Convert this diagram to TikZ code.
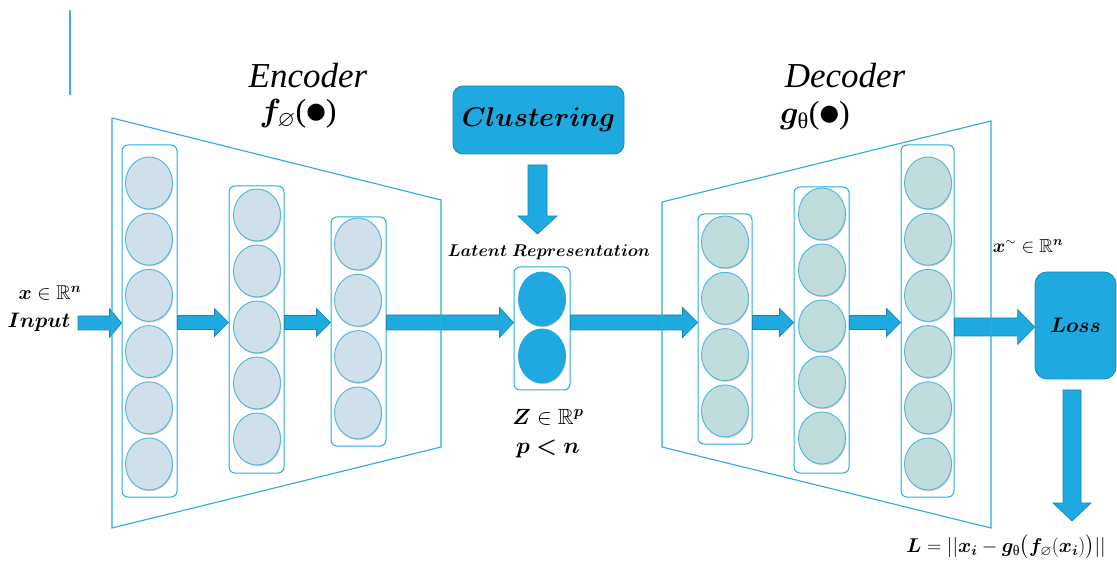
\RequirePackage{fix-cm}
\documentclass[tikz,border=0pt]{standalone}
\usepackage{amsmath,amssymb,bm}
\usepackage{fontspec}
\usepackage{graphicx}
\usetikzlibrary{shapes.geometric,shadows,calc}
\newfontfamily\tms{Liberation Serif}
\newfontfamily\djs{DejaVu Sans}
\definecolor{cyanl}{HTML}{29ABE2}
\definecolor{dblue}{HTML}{1EA9E0}
\definecolor{dedge}{HTML}{1B86B8}
\definecolor{encf}{HTML}{CFE0EB}
\definecolor{decf}{HTML}{C1DCDC}
\definecolor{cedge}{HTML}{52B3DC}
\newcommand\fsz[1]{\fontsize{#1}{#1}\selectfont}
\newcommand\dotarg{{\tms(}\raisebox{0.1em}{\djs\scalebox{0.7}{●}}{\tms)}}
% horizontal block arrow: from, to, half body, half head, head length
\newcommand\harr[5]{%
  \path[blk] let \p1=(#1), \p2=(#2) in
   (\x1,{\y1+#3}) -- ({\x2-#5},{\y1+#3}) -- ({\x2-#5},{\y1+#4}) -- (\x2,\y1)
   -- ({\x2-#5},{\y1-#4}) -- ({\x2-#5},{\y1-#3}) -- (\x1,{\y1-#3}) -- cycle;}
% vertical (downward) block arrow
\newcommand\varr[5]{%
  \path[blk] let \p1=(#1), \p2=(#2) in
   ({\x1-#3},\y1) -- ({\x1-#3},{\y2+#5}) -- ({\x1-#4},{\y2+#5}) -- (\x1,\y2)
   -- ({\x1+#4},{\y2+#5}) -- ({\x1+#3},{\y2+#5}) -- ({\x1+#3},\y1) -- cycle;}
\tikzset{
 colbox/.style={draw=cyanl, line width=1pt, rounded corners=6pt, minimum width=55pt, inner sep=0pt},
 neu/.style={ellipse, draw=cedge, line width=0.9pt, minimum width=47pt, minimum height=52pt, inner sep=0pt,
   drop shadow={shadow xshift=0.8pt,shadow yshift=-1.2pt,opacity=0.3,fill=black!60}},
 encn/.style={neu, fill=encf},
 decn/.style={neu, fill=decf},
 latn/.style={neu, fill=dblue, draw=dblue, minimum height=54pt},
 blk/.style={fill=dblue, draw=dedge, line width=0.7pt, line join=miter},
 trap/.style={draw=cyanl, line width=1.1pt},
 lbl/.style={inner sep=0pt},
 rbox/.style={fill=dblue, draw=dedge, line width=0.8pt, inner sep=0pt},
}
\begin{document}
\begin{tikzpicture}[x=1pt,y=-1pt]
\path[use as bounding box] (0,0) rectangle (1117,561);
% top-left line
\draw[draw=cyanl!90!white, line width=2pt] (70,10) -- (70,95);
% reference line for arrows
\coordinate (ay) at (0,322.5);
% encoder columns
\node[colbox, minimum height=352pt] (e1) at (149.5,321) {};
\foreach \i in {0,...,5} \node[encn] (e1n\i) at (149,{183+56.2*\i}) {};
\node[colbox, minimum height=287pt] (e2) at (256.5,329.5) {};
\foreach \i in {0,...,4} \node[encn] (e2n\i) at (257,{215+56*\i}) {};
\node[colbox, minimum height=229pt] (e3) at (358.5,331.5) {};
\foreach \i in {0,...,3} \node[encn] (e3n\i) at (358,{244+56.3*\i}) {};
% latent
\node[colbox, minimum width=56pt, minimum height=123pt] (lat) at (542,328.5) {};
\node[latn] (z1) at (542,299) {};
\node[latn] (z2) at (542,356) {};
% decoder columns
\node[colbox, minimum width=54pt, minimum height=230pt] (d1) at (725,329) {};
\foreach \i in {0,...,3} \node[decn] (d1n\i) at (725,{242+56.3*\i}) {};
\node[colbox, minimum height=286pt] (d2) at (821.5,330) {};
\foreach \i in {0,...,4} \node[decn] (d2n\i) at (822,{214+56*\i}) {};
\node[colbox, minimum width=53pt, minimum height=352pt] (d3) at (927.5,321) {};
\foreach \i in {0,...,5} \node[decn] (d3n\i) at (928,{183+56.2*\i}) {};
% clustering and loss boxes
\node[rbox, rounded corners=10pt, minimum width=171pt, minimum height=68pt] (clu) at (538.5,120)
  {\fsz{27}$\boldsymbol{Clustering}$};
\node[rbox, rounded corners=12pt, minimum width=81pt, minimum height=107pt] (loss) at (1075.5,325.5)
  {\fsz{21}$\boldsymbol{Loss}$};
% labels
\node[lbl, font=\tms\itshape\fsz{35}] (enc) at (308,76) {Encoder};
\node[lbl, font=\fsz{32}] (encf) at (298,114) {$\boldsymbol{f}_{\varnothing}$\dotarg};
\node[lbl, font=\tms\itshape\fsz{35}] (dec) at (845,76) {Decoder};
\node[lbl, font=\fsz{32}] (decg) at (815,116) {$\boldsymbol{g}_{\text{\tms θ}}$\dotarg};
\node[lbl, font=\fsz{17}] (lr) at (549,252) {$\boldsymbol{Latent\ Representation}$};
\node[lbl, font=\fsz{20}] (xin) at (50,293) {$\boldsymbol{x}\in\mathbb{R}^{\boldsymbol{n}}$};
\node[lbl, font=\fsz{21}] (inp) at (39,322) {$\boldsymbol{Input}$};
\node[lbl, font=\fsz{22}] (zr) at (548,417) {$\boldsymbol{Z}\in\mathbb{R}^{\boldsymbol{p}}$};
\node[lbl, font=\fsz{23}] (pn) at (548,449) {$\boldsymbol{p<n}$};
\node[lbl, font=\fsz{19}] (xt) at (1028,246) {$\boldsymbol{x}^{\sim}\in\mathbb{R}^{\boldsymbol{n}}$};
\node[lbl, font=\fsz{20}] (lf) at (1006,547)
  {$\boldsymbol{L}=||\boldsymbol{x_i}-\boldsymbol{g}_{\text{\tms θ}}\bigl(\boldsymbol{f}_{\varnothing}(\boldsymbol{x_i})\bigr)||$};
% free end of the input arrow
\coordinate (ins) at (78,323);
% block arrows
\harr{ins}{e1.west |- ins}{7pt}{14.5pt}{12pt}
\harr{e1.east |- ay}{e2.west |- ay}{7pt}{14pt}{14pt}
\harr{e2.east |- ay}{e3.west |- ay}{7pt}{14pt}{14pt}
\harr{e3.east |- ay}{lat.west |- ay}{7.5pt}{15pt}{14pt}
\harr{lat.east |- ay}{d1.west |- ay}{7.5pt}{15pt}{15pt}
\harr{d1.east |- ay}{d2.west |- ay}{7pt}{14pt}{14pt}
\harr{d2.east |- ay}{d3.west |- ay}{7pt}{14pt}{14pt}
\coordinate (ly) at (0,327);
\harr{d3.east |- ly}{loss.west |- ly}{9pt}{17.5pt}{17pt}
\coordinate (cs) at (537.5,165);
\coordinate (ce) at (537.5,234);
\varr{cs}{ce}{9.5pt}{19.5pt}{18pt}
\coordinate (ls) at (1072,390);
\coordinate (le) at (1072,521);
\varr{ls}{le}{9pt}{19pt}{18pt}
% trapezoids (drawn over the arrows)
\draw[trap] (112,118) -- (441,200) -- (441,447) -- (112,528) -- cycle;
\draw[trap] (662,202) -- (991,121) -- (991,528) -- (662,447) -- cycle;
\end{tikzpicture}
\end{document}
